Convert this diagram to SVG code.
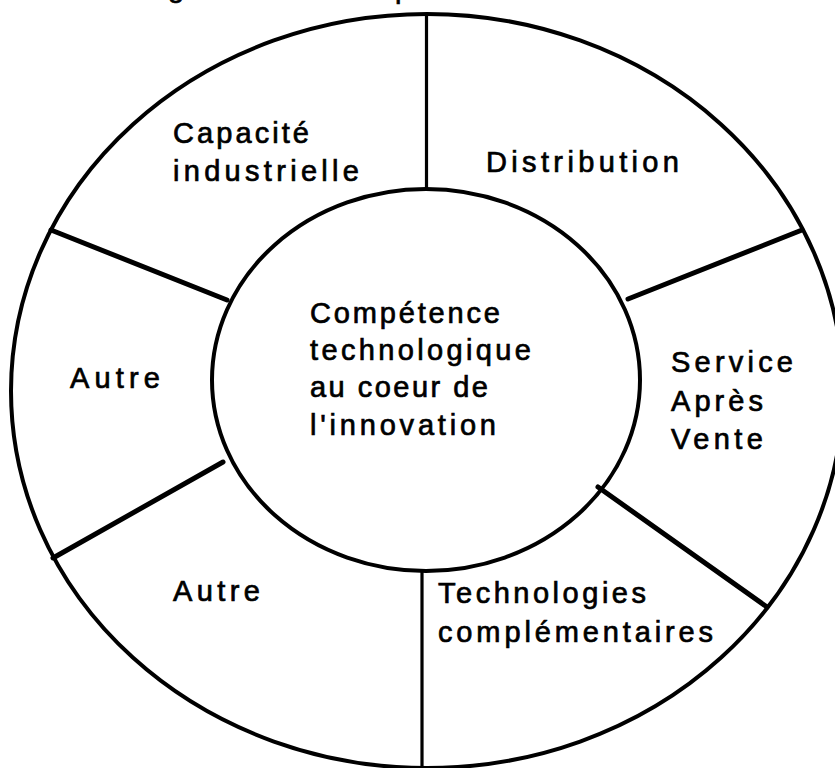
<svg xmlns="http://www.w3.org/2000/svg" width="835" height="768" viewBox="0 0 835 768">
  <style>
    .ring { fill: none; stroke: #000; stroke-width: 4; }
    .spoke { stroke: #000; stroke-width: 5; stroke-linecap: round; fill: none; }
    .vspoke { stroke: #000; stroke-width: 3.2; fill: none; }
    text { font-family: "Liberation Sans", Arial, sans-serif; font-size: 29px; fill: #000; stroke: #000; stroke-width: 0.7; }
  </style>
  <rect x="0" y="0" width="835" height="768" fill="#fff"/>

  <g id="title-fragment">
    <text x="168" y="-3">g</text>
    <text x="395" y="-2">p</text>
  </g>

  <g id="outer-ring">
    <ellipse class="ring" cx="427" cy="391" rx="416" ry="377"/>
  </g>

  <g id="connectors">
    <line class="vspoke" x1="426.5" y1="14" x2="426.5" y2="190"/>
    <line class="spoke" x1="51" y1="230" x2="227" y2="300"/>
    <line class="spoke" x1="628" y1="299" x2="802" y2="230"/>
    <line class="spoke" x1="223" y1="462" x2="53" y2="558"/>
    <line class="spoke" x1="598" y1="487" x2="767" y2="607"/>
    <line class="vspoke" x1="422" y1="571" x2="422" y2="768"/>
  </g>

  <g id="centre">
    <ellipse class="ring" cx="426" cy="380" rx="214" ry="191"/>
    <text x="310" y="323" textLength="190" lengthAdjust="spacing">Compétence</text>
    <text x="310" y="360" textLength="221" lengthAdjust="spacing">technologique</text>
    <text x="310" y="397" textLength="178" lengthAdjust="spacing">au coeur de</text>
    <text x="310" y="435" textLength="186" lengthAdjust="spacing">l'innovation</text>
  </g>

  <g id="capacite-industrielle">
    <text x="173" y="143" textLength="136" lengthAdjust="spacing">Capacité</text>
    <text x="173" y="181" textLength="186" lengthAdjust="spacing">industrielle</text>
  </g>

  <g id="distribution">
    <text x="486" y="172" textLength="193" lengthAdjust="spacing">Distribution</text>
  </g>

  <g id="service-apres-vente">
    <text x="671" y="372" textLength="122" lengthAdjust="spacing">Service</text>
    <text x="671" y="411" textLength="92" lengthAdjust="spacing">Après</text>
    <text x="671" y="449" textLength="92" lengthAdjust="spacing">Vente</text>
  </g>

  <g id="technologies-complementaires">
    <text x="438" y="603" textLength="208" lengthAdjust="spacing">Technologies</text>
    <text x="438" y="642" textLength="275" lengthAdjust="spacing">complémentaires</text>
  </g>

  <g id="autre-bas">
    <text x="173" y="601" textLength="87" lengthAdjust="spacing">Autre</text>
  </g>

  <g id="autre-gauche">
    <text x="70" y="388" textLength="90" lengthAdjust="spacing">Autre</text>
  </g>
</svg>
